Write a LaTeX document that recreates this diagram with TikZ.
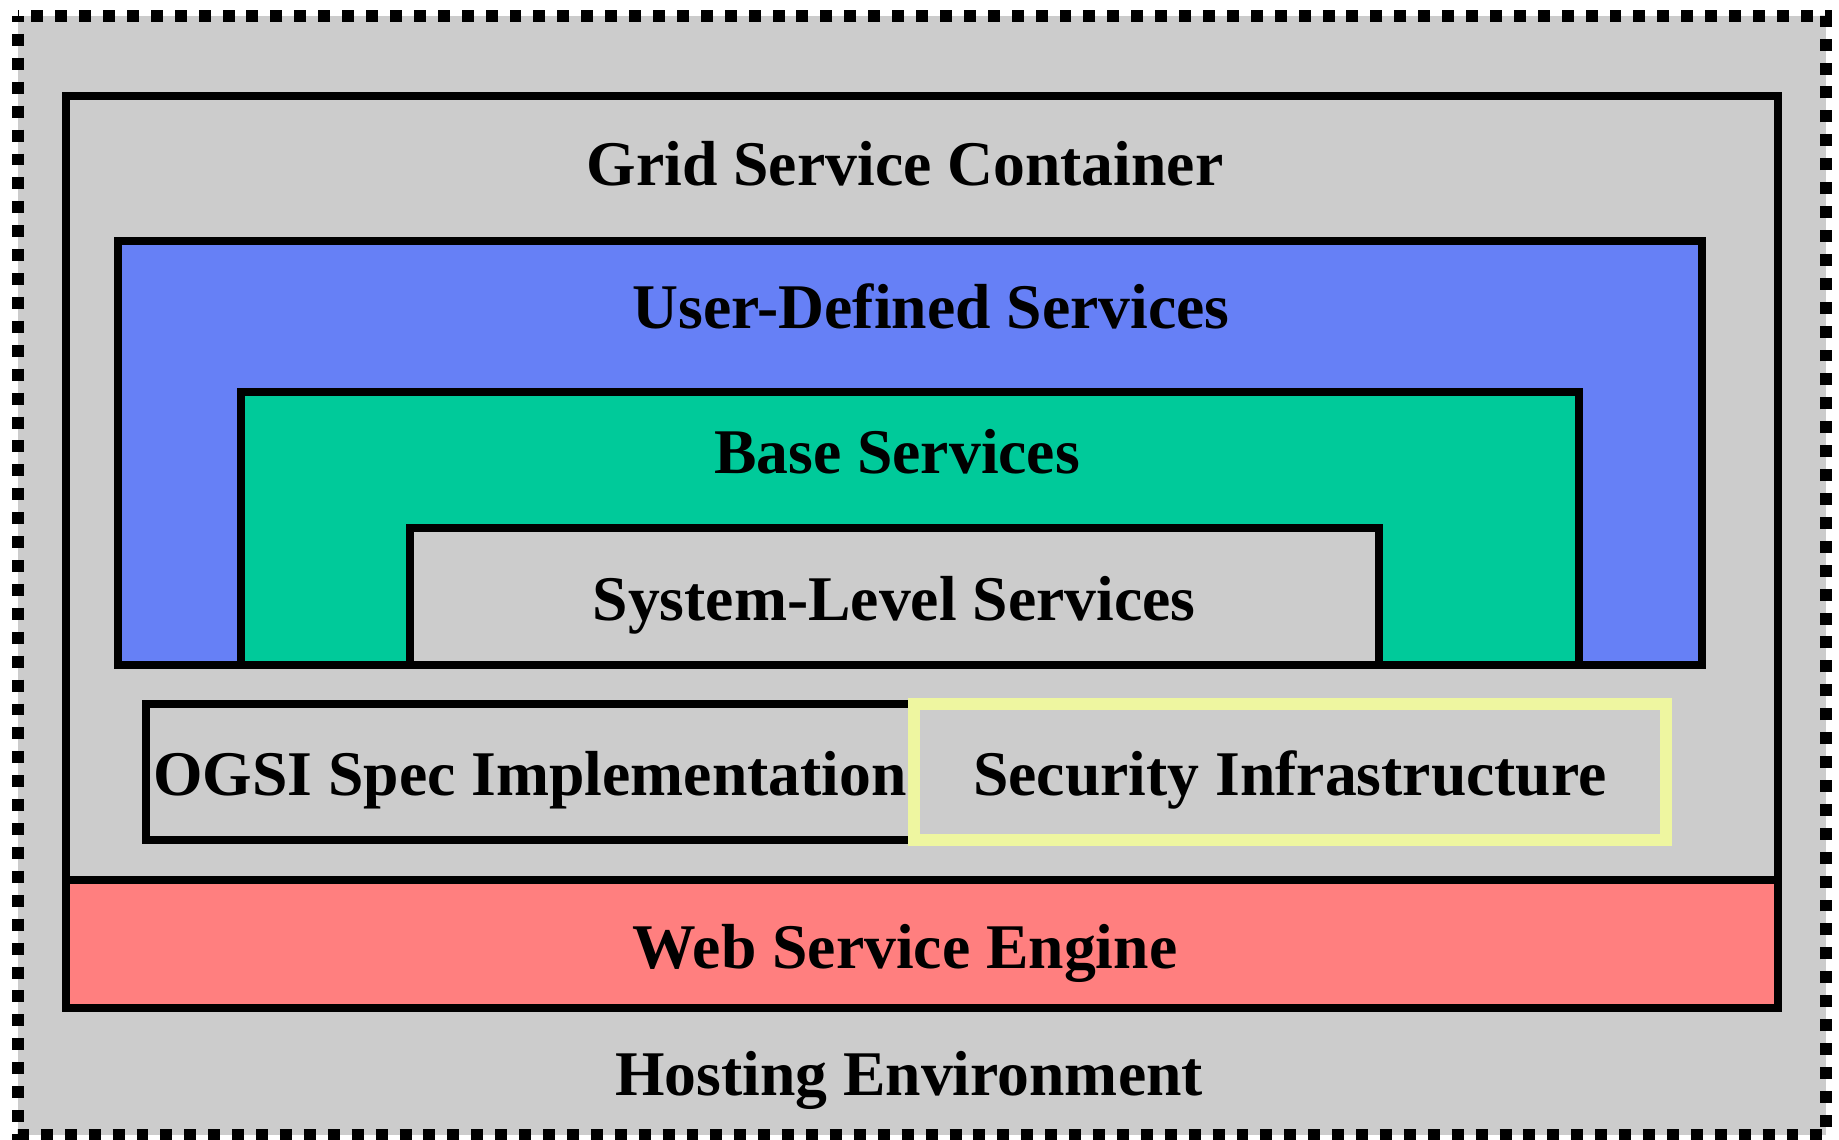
\documentclass[tikz,border=0pt]{standalone}
\usepackage{fontspec}
\setmainfont{Liberation Serif}
\definecolor{hostgray}{RGB}{204,204,204}
\definecolor{userblue}{RGB}{102,128,246}
\definecolor{basegreen}{RGB}{0,202,154}
\definecolor{enginered}{RGB}{255,127,127}
\definecolor{secyellow}{RGB}{238,246,160}

\begin{document}
\begin{tikzpicture}[x=0.01cm, y=-0.01cm, line width=2.27pt, draw=black,
		lbl/.style={anchor=base, inner sep=0pt, font=\fontsize{18.1}{22}\selectfont\bfseries}]
			\useasboundingbox (0,0) rectangle (1839,1139);
			\draw [fill=hostgray, line width=3.4pt, dash pattern=on 3.4pt off 3.4pt, dash phase=1.7pt] (18,16) rectangle (1826,1135);
			\draw [fill=hostgray] (66,96) rectangle (1778,1008);
			\draw [fill=enginered] (66,880) rectangle (1778,1008);
			\draw [fill=userblue] (118,241) rectangle (1702,665);
			\draw [fill=basegreen] (241,392) rectangle (1579,665);
			\draw [fill=hostgray] (410,528) rectangle (1379,665);
			\draw (146,704) rectangle (914,840);
			\draw [draw=secyellow, line width=3.4pt] (914,704) rectangle (1666,840);
			\node[lbl] (container) at (905,185) {Grid Service Container};
			\node[lbl] (user) at (931,328) {User-Defined Services};
			\node[lbl] (base) at (897,473) {Base Services};
			\node[lbl] (system) at (894,620) {System-Level Services};
			\node[lbl] (ogsi) at (530,795) {OGSI Spec Implementation};
			\node[lbl] (security) at (1290,795) {Security Infrastructure};
			\node[lbl] (engine) at (905,968) {Web Service Engine};
			\node[lbl] (hosting) at (909,1095) {Hosting Environment};
\end{tikzpicture}
\end{document}
